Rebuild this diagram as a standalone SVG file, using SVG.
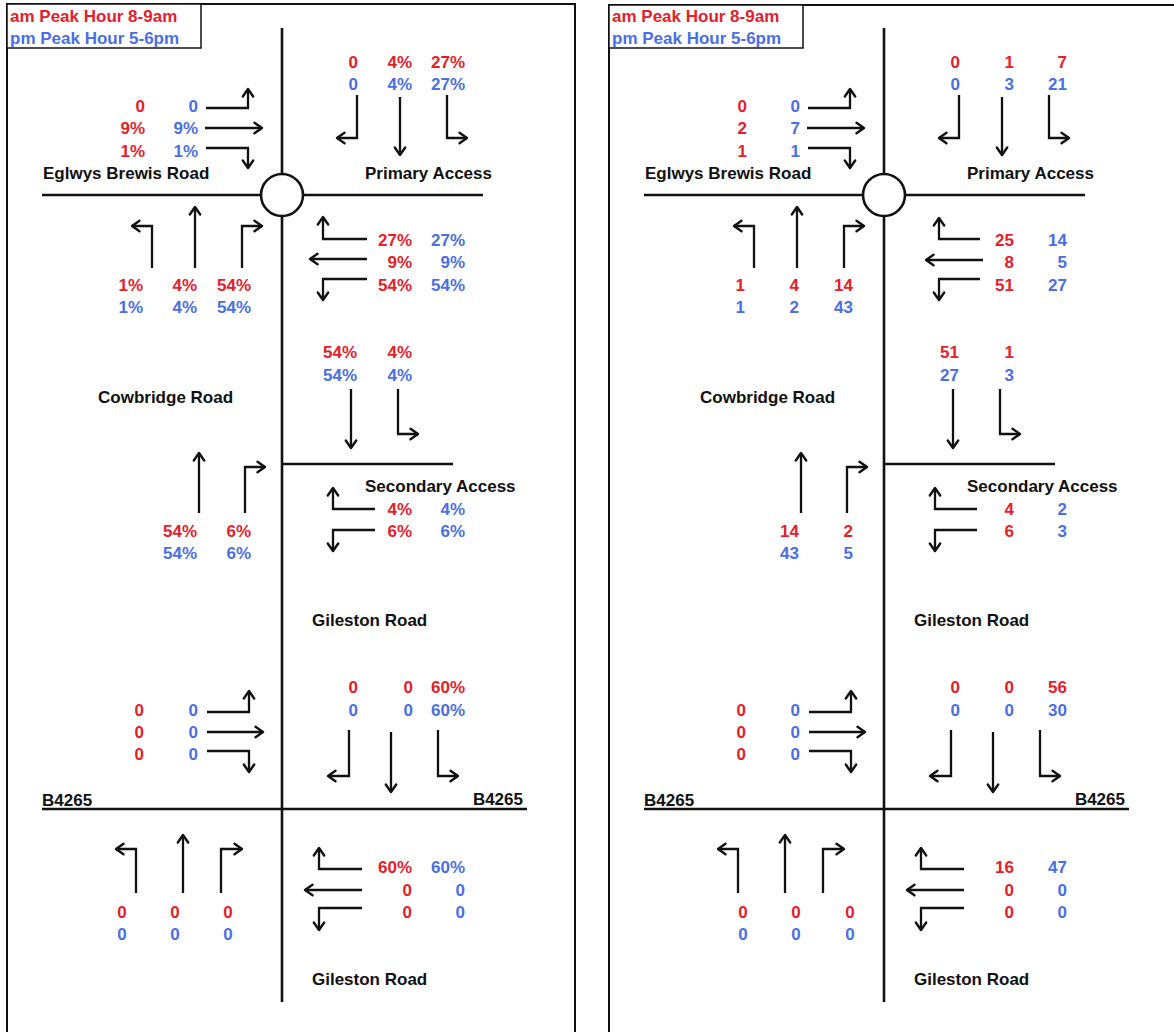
<svg xmlns="http://www.w3.org/2000/svg" width="1174" height="1032" viewBox="0 0 1174 1032">
<style>
text { font-family: "Liberation Sans", Arial, Helvetica, sans-serif; font-weight: bold; font-size: 17px; }
.r { fill: #e5202a; }
.b { fill: #4a6fe3; }
.k { fill: #111; }
.e { text-anchor: end; }
.m { text-anchor: middle; }
.road { stroke: #111; stroke-width: 2.6; fill: none; }
.arr { stroke: #111; stroke-width: 2.3; fill: none; marker-end: url(#ah); }
.frame { fill: none; stroke: #111; stroke-width: 2; }
.legend { fill: #fff; stroke: #111; stroke-width: 1.5; }
.rb { fill: #fff; stroke: #111; stroke-width: 2.6; }
</style>
<defs>
<marker id="ah" viewBox="0 0 12 12" refX="10" refY="6" markerWidth="12" markerHeight="12" markerUnits="userSpaceOnUse" orient="auto" overflow="visible">
<path d="M2.5,0.8 L10,6 L2.5,11.2" fill="none" stroke="#111" stroke-width="2.4" stroke-linejoin="round" stroke-linecap="round"/>
</marker>
</defs>
<rect width="1174" height="1032" fill="#fff"/>

<!-- LEFT PANEL (percentages) -->
<g id="left-panel">
<rect class="frame" x="7" y="4" width="568" height="1050"/>
<g id="left-legend">
<rect class="legend" x="7" y="4" width="194" height="44"/>
<text x="10" y="22" class="r">am Peak Hour 8-9am</text>
<text x="10" y="44" class="b">pm Peak Hour 5-6pm</text>
</g>
<g id="left-roads">
<path class="road" d="M282,28 V1002"/>
<path class="road" d="M42,195 H483"/>
<path class="road" d="M282,464 H453"/>
<path class="road" d="M42,809 H527"/>
<circle class="rb" cx="282" cy="195" r="21"/>
</g>
<g id="left-labels">
<text class="k" x="43" y="179">Eglwys Brewis Road</text>
<text class="k" x="365" y="179">Primary Access</text>
<text class="k" x="98" y="403">Cowbridge Road</text>
<text class="k" x="365" y="492">Secondary Access</text>
<text class="k" x="312" y="626">Gileston Road</text>
<text class="k" x="42" y="806">B4265</text>
<text class="k e" x="523" y="805">B4265</text>
<text class="k" x="312" y="985">Gileston Road</text>
</g>
<g id="left-eglwys-values">
<text class="r e" x="145" y="112">0</text><text class="b e" x="198" y="112">0</text>
<text class="r e" x="145" y="134">9%</text><text class="b e" x="198" y="134">9%</text>
<text class="r e" x="145" y="157">1%</text><text class="b e" x="198" y="157">1%</text>
</g>
<g id="left-primary-values">
<text class="r e" x="358" y="68">0</text><text class="r e" x="412" y="68">4%</text><text class="r e" x="465" y="68">27%</text>
<text class="b e" x="358" y="90">0</text><text class="b e" x="412" y="90">4%</text><text class="b e" x="465" y="90">27%</text>
</g>
<g id="left-cowbridge-north-values">
<text class="r e" x="143" y="291">1%</text><text class="r e" x="197" y="291">4%</text><text class="r e" x="251" y="291">54%</text>
<text class="b e" x="143" y="313">1%</text><text class="b e" x="197" y="313">4%</text><text class="b e" x="251" y="313">54%</text>
</g>
<g id="left-roundabout-west-values">
<text class="r e" x="412" y="246">27%</text><text class="b e" x="465" y="246">27%</text>
<text class="r e" x="412" y="268">9%</text><text class="b e" x="465" y="268">9%</text>
<text class="r e" x="412" y="291">54%</text><text class="b e" x="465" y="291">54%</text>
</g>
<g id="left-secondary-south-values">
<text class="r e" x="357" y="358">54%</text><text class="r e" x="412" y="358">4%</text>
<text class="b e" x="357" y="381">54%</text><text class="b e" x="412" y="381">4%</text>
</g>
<g id="left-secondary-west-values">
<text class="r e" x="412" y="515">4%</text><text class="b e" x="465" y="515">4%</text>
<text class="r e" x="412" y="537">6%</text><text class="b e" x="465" y="537">6%</text>
</g>
<g id="left-secondary-north-values">
<text class="r e" x="197" y="537">54%</text><text class="r e" x="251" y="537">6%</text>
<text class="b e" x="197" y="559">54%</text><text class="b e" x="251" y="559">6%</text>
</g>
<g id="left-b4265-east-values">
<text class="r e" x="144" y="716">0</text><text class="b e" x="198" y="716">0</text>
<text class="r e" x="144" y="738">0</text><text class="b e" x="198" y="738">0</text>
<text class="r e" x="144" y="760">0</text><text class="b e" x="198" y="760">0</text>
</g>
<g id="left-b4265-south-values">
<text class="r e" x="358" y="693">0</text><text class="r e" x="413" y="693">0</text><text class="r e" x="465" y="693">60%</text>
<text class="b e" x="358" y="716">0</text><text class="b e" x="413" y="716">0</text><text class="b e" x="465" y="716">60%</text>
</g>
<g id="left-gileston-north-values">
<text class="r m" x="122" y="918">0</text><text class="r m" x="175" y="918">0</text><text class="r m" x="228" y="918">0</text>
<text class="b m" x="122" y="940">0</text><text class="b m" x="175" y="940">0</text><text class="b m" x="228" y="940">0</text>
</g>
<g id="left-b4265-west-values">
<text class="r e" x="412" y="873">60%</text><text class="b e" x="465" y="873">60%</text>
<text class="r e" x="412" y="896">0</text><text class="b e" x="465" y="896">0</text>
<text class="r e" x="412" y="918">0</text><text class="b e" x="465" y="918">0</text>
</g>
</g>

<!-- RIGHT PANEL (vehicles) -->
<g id="right-panel">
<rect class="frame" x="609" y="5" width="568" height="1050"/>
<g id="right-legend">
<rect class="legend" x="609" y="5" width="194" height="43"/>
<text x="612" y="22" class="r">am Peak Hour 8-9am</text>
<text x="612" y="44" class="b">pm Peak Hour 5-6pm</text>
</g>
<g id="right-roads">
<path class="road" d="M884,28 V1002"/>
<path class="road" d="M644,195 H1085"/>
<path class="road" d="M884,464 H1055"/>
<path class="road" d="M644,809 H1129"/>
<circle class="rb" cx="884" cy="195" r="21"/>
</g>
<g id="right-labels">
<text class="k" x="645" y="179">Eglwys Brewis Road</text>
<text class="k" x="967" y="179">Primary Access</text>
<text class="k" x="700" y="403">Cowbridge Road</text>
<text class="k" x="967" y="492">Secondary Access</text>
<text class="k" x="914" y="626">Gileston Road</text>
<text class="k" x="644" y="806">B4265</text>
<text class="k e" x="1125" y="805">B4265</text>
<text class="k" x="914" y="985">Gileston Road</text>
</g>
<g id="right-eglwys-values">
<text class="r e" x="747" y="112">0</text><text class="b e" x="800" y="112">0</text>
<text class="r e" x="747" y="134">2</text><text class="b e" x="800" y="134">7</text>
<text class="r e" x="747" y="157">1</text><text class="b e" x="800" y="157">1</text>
</g>
<g id="right-primary-values">
<text class="r e" x="960" y="68">0</text><text class="r e" x="1014" y="68">1</text><text class="r e" x="1067" y="68">7</text>
<text class="b e" x="960" y="90">0</text><text class="b e" x="1014" y="90">3</text><text class="b e" x="1067" y="90">21</text>
</g>
<g id="right-cowbridge-north-values">
<text class="r e" x="745" y="291">1</text><text class="r e" x="799" y="291">4</text><text class="r e" x="853" y="291">14</text>
<text class="b e" x="745" y="313">1</text><text class="b e" x="799" y="313">2</text><text class="b e" x="853" y="313">43</text>
</g>
<g id="right-roundabout-west-values">
<text class="r e" x="1014" y="246">25</text><text class="b e" x="1067" y="246">14</text>
<text class="r e" x="1014" y="268">8</text><text class="b e" x="1067" y="268">5</text>
<text class="r e" x="1014" y="291">51</text><text class="b e" x="1067" y="291">27</text>
</g>
<g id="right-secondary-south-values">
<text class="r e" x="959" y="358">51</text><text class="r e" x="1014" y="358">1</text>
<text class="b e" x="959" y="381">27</text><text class="b e" x="1014" y="381">3</text>
</g>
<g id="right-secondary-west-values">
<text class="r e" x="1014" y="515">4</text><text class="b e" x="1067" y="515">2</text>
<text class="r e" x="1014" y="537">6</text><text class="b e" x="1067" y="537">3</text>
</g>
<g id="right-secondary-north-values">
<text class="r e" x="799" y="537">14</text><text class="r e" x="853" y="537">2</text>
<text class="b e" x="799" y="559">43</text><text class="b e" x="853" y="559">5</text>
</g>
<g id="right-b4265-east-values">
<text class="r e" x="746" y="716">0</text><text class="b e" x="800" y="716">0</text>
<text class="r e" x="746" y="738">0</text><text class="b e" x="800" y="738">0</text>
<text class="r e" x="746" y="760">0</text><text class="b e" x="800" y="760">0</text>
</g>
<g id="right-b4265-south-values">
<text class="r e" x="960" y="693">0</text><text class="r e" x="1014" y="693">0</text><text class="r e" x="1067" y="693">56</text>
<text class="b e" x="960" y="716">0</text><text class="b e" x="1014" y="716">0</text><text class="b e" x="1067" y="716">30</text>
</g>
<g id="right-gileston-north-values">
<text class="r m" x="743" y="918">0</text><text class="r m" x="796" y="918">0</text><text class="r m" x="850" y="918">0</text>
<text class="b m" x="743" y="940">0</text><text class="b m" x="796" y="940">0</text><text class="b m" x="850" y="940">0</text>
</g>
<g id="right-b4265-west-values">
<text class="r e" x="1014" y="873">16</text><text class="b e" x="1067" y="873">47</text>
<text class="r e" x="1014" y="896">0</text><text class="b e" x="1067" y="896">0</text>
<text class="r e" x="1014" y="918">0</text><text class="b e" x="1067" y="918">0</text>
</g>
</g>

<!-- CONNECTORS (turning movement arrows) -->
<g id="connectors">
<g id="left-arrows">
<path class="arr" d="M206,108 H248 V89"/>
<path class="arr" d="M205,128 H262"/>
<path class="arr" d="M206,148 H248 V168"/>
<path class="arr" d="M357,95 V138 H337"/>
<path class="arr" d="M400,97 V155"/>
<path class="arr" d="M447,95 V138 H467"/>
<path class="arr" d="M152,268 V226 H132"/>
<path class="arr" d="M195,268 V207"/>
<path class="arr" d="M242,268 V226 H262"/>
<path class="arr" d="M367,239 H323 V217"/>
<path class="arr" d="M367,259 H310"/>
<path class="arr" d="M367,279 H323 V300"/>
<path class="arr" d="M351,389 V448"/>
<path class="arr" d="M398,389 V434 H418"/>
<path class="arr" d="M199,513 V453"/>
<path class="arr" d="M245,513 V467 H265"/>
<path class="arr" d="M375,509 H333 V488"/>
<path class="arr" d="M375,530 H333 V551"/>
<path class="arr" d="M207,712 H249 V691"/>
<path class="arr" d="M207,732 H263"/>
<path class="arr" d="M207,751 H249 V772"/>
<path class="arr" d="M349,730 V776 H328"/>
<path class="arr" d="M391,732 V792"/>
<path class="arr" d="M438,730 V776 H458"/>
<path class="arr" d="M136,893 V849 H116"/>
<path class="arr" d="M183,893 V835"/>
<path class="arr" d="M221,893 V849 H242"/>
<path class="arr" d="M362,869 H319 V848"/>
<path class="arr" d="M362,890 H305"/>
<path class="arr" d="M362,908 H319 V930"/>
</g>
<g id="right-arrows">
<path class="arr" d="M808,108 H850 V89"/>
<path class="arr" d="M807,128 H864"/>
<path class="arr" d="M808,148 H850 V168"/>
<path class="arr" d="M959,95 V138 H939"/>
<path class="arr" d="M1002,97 V155"/>
<path class="arr" d="M1049,95 V138 H1069"/>
<path class="arr" d="M754,268 V226 H734"/>
<path class="arr" d="M797,268 V207"/>
<path class="arr" d="M844,268 V226 H864"/>
<path class="arr" d="M980,239 H939 V218"/>
<path class="arr" d="M983,260 H926"/>
<path class="arr" d="M980,279 H939 V300"/>
<path class="arr" d="M953,389 V448"/>
<path class="arr" d="M1000,389 V434 H1020"/>
<path class="arr" d="M801,513 V453"/>
<path class="arr" d="M847,513 V467 H867"/>
<path class="arr" d="M977,509 H935 V488"/>
<path class="arr" d="M977,530 H935 V551"/>
<path class="arr" d="M809,712 H851 V691"/>
<path class="arr" d="M809,732 H865"/>
<path class="arr" d="M809,751 H851 V772"/>
<path class="arr" d="M951,730 V776 H930"/>
<path class="arr" d="M993,732 V792"/>
<path class="arr" d="M1040,730 V776 H1060"/>
<path class="arr" d="M738,893 V849 H718"/>
<path class="arr" d="M785,893 V835"/>
<path class="arr" d="M823,893 V849 H844"/>
<path class="arr" d="M964,869 H921 V848"/>
<path class="arr" d="M964,890 H907"/>
<path class="arr" d="M964,908 H921 V930"/>
</g>
</g>
</svg>
